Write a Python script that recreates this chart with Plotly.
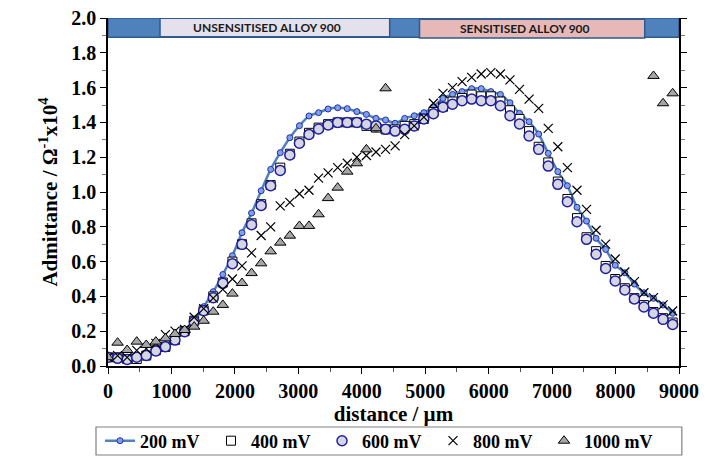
import plotly.graph_objects as go

# Measurement positions along the specimen (µm)
distance = [0, 151, 302, 453, 603, 754, 905, 1056, 1207, 1358,
            1508, 1659, 1810, 1961, 2112, 2263, 2414, 2564, 2715, 2866,
            3017, 3168, 3319, 3469, 3620, 3771, 3922, 4073, 4224, 4375,
            4525, 4676, 4827, 4978, 5129, 5280, 5430, 5581, 5732, 5883,
            6034, 6185, 6336, 6486, 6637, 6788, 6939, 7090, 7241, 7392,
            7542, 7693, 7844, 7995, 8146, 8297, 8447, 8598, 8749, 8900]

# Admittance (Ω^-1 x10^4) at each applied potential
y_200 = [0.04, 0.04, 0.04, 0.05, 0.07, 0.09, 0.12, 0.16, 0.20, 0.265,
         0.341, 0.427, 0.526, 0.634, 0.766, 0.879, 1.007, 1.130, 1.226, 1.312,
         1.381, 1.437, 1.456, 1.477, 1.484, 1.479, 1.462, 1.446, 1.423, 1.414,
         1.395, 1.423, 1.438, 1.456, 1.490, 1.538, 1.561, 1.577, 1.594, 1.594,
         1.577, 1.561, 1.513, 1.452, 1.404, 1.333, 1.222, 1.117, 1.036, 0.912,
         0.833, 0.734, 0.670, 0.579, 0.536, 0.471, 0.421, 0.389, 0.351, 0.303]

y_400 = [0.05, 0.05, 0.04, 0.04, 0.06, 0.09, 0.11, 0.15, 0.20, 0.26,
         0.32, 0.40, 0.48, 0.60, 0.70, 0.82, 0.93, 1.04, 1.14, 1.22,
         1.29, 1.34, 1.37, 1.39, 1.40, 1.40, 1.40, 1.38, 1.37, 1.36,
         1.36, 1.38, 1.39, 1.42, 1.46, 1.49, 1.52, 1.54, 1.56, 1.55,
         1.55, 1.52, 1.47, 1.42, 1.35, 1.26, 1.17, 1.06, 0.96, 0.85,
         0.74, 0.66, 0.575, 0.50, 0.447, 0.39, 0.35, 0.31, 0.275, 0.25]

y_600 = [0.050, 0.044, 0.038, 0.050, 0.061, 0.086, 0.111, 0.149, 0.197, 0.255,
         0.318, 0.392, 0.475, 0.588, 0.699, 0.812, 0.923, 1.036, 1.124, 1.213,
         1.280, 1.331, 1.362, 1.385, 1.400, 1.400, 1.400, 1.390, 1.380, 1.360,
         1.350, 1.360, 1.380, 1.420, 1.450, 1.487, 1.504, 1.525, 1.534, 1.525,
         1.525, 1.496, 1.438, 1.391, 1.322, 1.245, 1.149, 1.044, 0.944, 0.829,
         0.728, 0.642, 0.561, 0.489, 0.437, 0.385, 0.339, 0.303, 0.268, 0.239]

y_800 = [0.05, 0.06, 0.05, 0.09, 0.10, 0.13, 0.18, 0.20, 0.21, 0.28,
         0.33, 0.39, 0.44, 0.50, 0.575, 0.65, 0.75, 0.80, 0.92, 0.94,
         0.99, 1.01, 1.08, 1.11, 1.14, 1.165, 1.20, 1.21, 1.23, 1.245,
         1.265, 1.33, 1.38, 1.43, 1.51, 1.567, 1.60, 1.634, 1.659, 1.678,
         1.686, 1.678, 1.644, 1.59, 1.534, 1.481, 1.366, 1.26, 1.14, 1.01,
         0.90, 0.78, 0.70, 0.615, 0.54, 0.485, 0.421, 0.393, 0.351, 0.316]

y_1000 = [0.05, 0.134, 0.092, 0.14, 0.121, 0.14, 0.159, 0.184, 0.207, 0.226,
          0.26, 0.312, 0.351, 0.416, 0.477, 0.534, 0.59, 0.659, 0.709, 0.749,
          0.805, 0.805, 0.872, 0.965, 1.025, 1.117, 1.165, 1.245, 1.366, 1.596,
          None, None, None, None, None, None, None, None, None, None,
          None, None, None, None, None, None, None, None, None, None,
          None, None, None, None, None, None, None, 1.667, 1.51, 1.567]

serif = "Liberation Serif"
fig = go.Figure()

fig.add_trace(go.Scatter(
    x=distance, y=y_200, name="<b>200 mV</b>", mode="lines+markers",
    line=dict(color="#4F81BD", width=2.5, shape="spline", smoothing=0.6),
    marker=dict(symbol="circle", size=6, color="#7FA0E8",
                line=dict(color="#1F2FA8", width=1)),
))
fig.add_trace(go.Scatter(
    x=distance, y=y_400, name="<b>400 mV</b>", mode="markers",
    marker=dict(symbol="square", size=9, color="#FFFFFF",
                line=dict(color="#000000", width=1)),
))
fig.add_trace(go.Scatter(
    x=distance, y=y_600, name="<b>600 mV</b>", mode="markers",
    marker=dict(symbol="circle", size=10, color="#D6D6E2",
                line=dict(color="#1F1FA0", width=1.5)),
))
fig.add_trace(go.Scatter(
    x=distance, y=y_800, name="<b>800 mV</b>", mode="markers",
    marker=dict(symbol="x-thin", size=9, color="#000000",
                line=dict(color="#000000", width=1.2)),
))
fig.add_trace(go.Scatter(
    x=distance, y=y_1000, name="<b>1000 mV</b>", mode="markers",
    marker=dict(symbol="triangle-up", size=10, color="#A6A6A6",
                line=dict(color="#000000", width=1)),
))

# Region banner along the top of the plot
bar_blue = "#4F81BD"
bar_edge = "#2F5A8C"
fig.add_shape(type="rect", x0=0, x1=9000, y0=1.89, y1=2.0, xref="x", yref="y",
              fillcolor=bar_blue, line=dict(color=bar_edge, width=1.5), layer="above")
fig.add_shape(type="rect", x0=820, x1=4440, y0=1.892, y1=1.998, xref="x", yref="y",
              fillcolor="#E4E0EC", line=dict(color=bar_edge, width=1.5), layer="above")
fig.add_shape(type="rect", x0=4910, x1=8460, y0=1.885, y1=1.993, xref="x", yref="y",
              fillcolor="#E6B9B8", line=dict(color=bar_edge, width=1.5), layer="above")
fig.add_annotation(x=2510, y=1.945, xref="x", yref="y", text="<b>UNSENSITISED ALLOY 900</b>",
                   showarrow=False, font=dict(family="Lato", size=12, color="#1a1a1a"))
fig.add_annotation(x=6580, y=1.94, xref="x", yref="y", text="<b>SENSITISED ALLOY 900</b>",
                   showarrow=False, font=dict(family="Lato", size=12, color="#1a1a1a"))

# Frame around the legend row
fig.add_shape(type="rect", xref="paper", yref="paper",
              x0=-0.021, x1=1.005, y0=-0.2557, y1=-0.1753,
              line=dict(color="#808080", width=1.2), fillcolor="rgba(0,0,0,0)")

fig.update_layout(
    width=706, height=458,
    margin=dict(l=108, r=27, t=18, b=92, autoexpand=False),
    paper_bgcolor="white", plot_bgcolor="white",
    font=dict(family=serif, color="black"),
    showlegend=True,
    legend=dict(
        orientation="h", x=0.472, xanchor="center", y=-0.2155, yanchor="middle",
        borderwidth=0, bgcolor="rgba(0,0,0,0)",
        font=dict(family=serif, size=18, color="black"),
        entrywidth=66, itemwidth=30, tracegroupgap=0,
    ),
)

fig.update_xaxes(
    range=[0, 9000], tickmode="linear", tick0=0, dtick=1000,
    ticks="outside", ticklen=6, tickwidth=1.2, tickcolor="black",
    minor=dict(dtick=500, ticks="outside", ticklen=4, tickcolor="#555555"),
    showline=True, linecolor="black", linewidth=1.5, showgrid=False, zeroline=False,
    tickfont=dict(family=serif, size=20, color="black"),
    title=dict(text="<b>distance / µm</b>", font=dict(family=serif, size=21), standoff=0),
    tickprefix="<b>", ticksuffix="</b>", automargin=False,
)
fig.update_yaxes(
    range=[0, 2.0], tickmode="linear", tick0=0, dtick=0.2, tickformat=".1f",
    ticks="outside", ticklen=6, tickwidth=1.2, tickcolor="black",
    minor=dict(dtick=0.1, ticks="outside", ticklen=4, tickcolor="#777777"),
    showline=True, linecolor="black", linewidth=1.5, mirror="ticks",
    showgrid=False, zeroline=False,
    tickfont=dict(family=serif, size=20, color="black"),
    title=dict(text="<b>Admittance / Ω<sup>-1</sup>x10<sup>4</sup></b>",
               font=dict(family=serif, size=21), standoff=8),
    tickprefix="<b>", ticksuffix="</b>", automargin=False,
)

fig.write_html("out.html")
